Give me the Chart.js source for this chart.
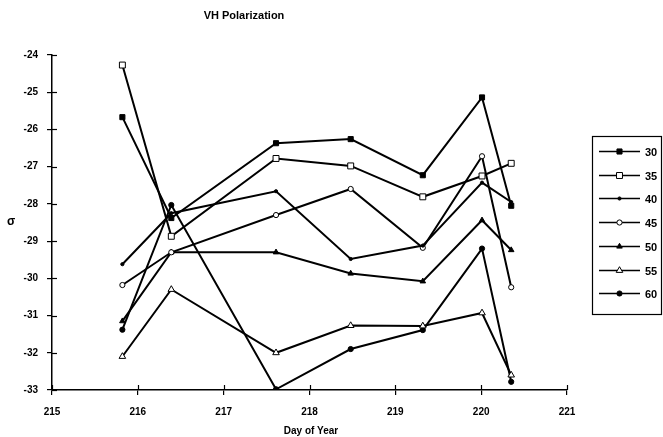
<!DOCTYPE html>
<html>
<head>
<meta charset="utf-8">
<script src="https://cdn.jsdelivr.net/npm/chart.js@4.4.1/dist/chart.umd.min.js"></script>
<style>
html,body{margin:0;padding:0;background:#fff;}
#wrap{position:relative;width:663px;height:437px;}
</style>
</head>
<body>
<div id="wrap"><canvas id="c" width="663" height="437"></canvas></div>
<script>
// ---- data ----
const days = [215.82, 216.39, 217.61, 218.48, 219.32, 220.01, 220.35];
const seriesNames = ["30", "35", "40", "45", "50", "55", "60"];
const s30 = [-25.67, -28.38, -26.37, -26.26, -27.23, -25.14, -28.05];
const s35 = [-24.27, -28.87, -26.78, -26.98, -27.81, -27.25, -26.91];
const s40 = [-29.62, -28.25, -27.66, -29.48, -29.12, -27.43, -27.95];
const s45 = [-30.18, -29.30, -28.30, -27.60, -29.18, -26.72, -30.24];
const s50 = [-31.15, -29.30, -29.30, -29.87, -30.08, -28.44, -29.24];
const s55 = [-32.10, -30.30, -32.00, -31.27, -31.28, -30.93, -32.60];
const s60 = [-31.38, -28.03, -32.98, -31.90, -31.39, -29.20, -32.78];
const xTicks = [215, 216, 217, 218, 219, 220, 221];
const yTicks = [-24, -25, -26, -27, -28, -29, -30, -31, -32, -33];

const allSeries = [s30, s35, s40, s45, s50, s55, s60];
const markers = [
  {style: 'rect', r: 3.6, fill: '#000'},
  {style: 'rect', r: 4.2, fill: '#fff'},
  {style: 'circle', r: 1.6, fill: '#000'},
  {style: 'circle', r: 2.6, fill: '#fff'},
  {style: 'triangle', r: 3.2, fill: '#000'},
  {style: 'triangle', r: 3.8, fill: '#fff'},
  {style: 'circle', r: 2.6, fill: '#000'}
];

const FONT = "'Liberation Sans Narrow', 'Liberation Sans', Arial, sans-serif";

const datasets = allSeries.map((vals, i) => ({
  label: seriesNames[i],
  data: vals.map((v, j) => ({x: days[j], y: v})),
  showLine: true,
  borderColor: '#000',
  borderWidth: 2,
  pointStyle: markers[i].style,
  pointRadius: markers[i].r,
  pointBackgroundColor: markers[i].fill,
  pointBorderColor: '#000',
  pointBorderWidth: 1,
  tension: 0
}));

function drawMarker(ctx, m, x, y) {
  ctx.save();
  ctx.fillStyle = m.fill;
  ctx.strokeStyle = '#000';
  ctx.lineWidth = 1;
  ctx.beginPath();
  if (m.style === 'rect') {
    const s = m.r * Math.SQRT1_2;
    ctx.rect(x - s, y - s, 2 * s, 2 * s);
  } else if (m.style === 'circle') {
    ctx.arc(x, y, m.r, 0, Math.PI * 2);
  } else if (m.style === 'triangle') {
    const r = m.r;
    ctx.moveTo(x, y - r);
    ctx.lineTo(x + r * 0.866, y + r * 0.5);
    ctx.lineTo(x - r * 0.866, y + r * 0.5);
    ctx.closePath();
  }
  ctx.fill();
  ctx.stroke();
  ctx.restore();
}

const decor = {
  id: 'decor',
  afterDraw(chart) {
    const ctx = chart.ctx;
    const xs = chart.scales.x, ys = chart.scales.y;
    ctx.save();
    ctx.strokeStyle = '#000';
    ctx.lineWidth = 1.2;
    // inward tick marks (cross ticks)
    xTicks.forEach(t => {
      const px = Math.round(xs.getPixelForValue(t)) + 0.5;
      ctx.beginPath();
      ctx.moveTo(px, ys.bottom);
      ctx.lineTo(px, ys.bottom - 5);
      ctx.stroke();
    });
    yTicks.forEach(t => {
      const py = Math.round(ys.getPixelForValue(t)) + 0.5;
      ctx.beginPath();
      ctx.moveTo(xs.left, py);
      ctx.lineTo(xs.left + 5, py);
      ctx.stroke();
    });
    // title
    ctx.fillStyle = '#000';
    ctx.font = "bold 11px " + FONT;
    ctx.textAlign = 'center';
    ctx.textBaseline = 'middle';
    ctx.fillText('VH Polarization', 244, 16);
    // y axis title
    ctx.font = "bold 12px " + FONT;
    ctx.fillText('σ', 11, 222);
    // x axis title
    ctx.font = "bold 10px " + FONT;
    ctx.fillText('Day of Year', 311, 431);
    // legend box
    ctx.lineWidth = 1.2;
    ctx.strokeRect(592.5, 136.5, 69, 178);
    const y0 = 151, dy = 23.7;
    ctx.textAlign = 'left';
    ctx.font = "bold 11px " + FONT;
    seriesNames.forEach((n, i) => {
      const y = Math.round(y0 + i * dy) + 0.5;
      ctx.lineWidth = 1.5;
      ctx.beginPath();
      ctx.moveTo(599, y);
      ctx.lineTo(640, y);
      ctx.stroke();
      drawMarker(ctx, markers[i], 619.5, y);
      ctx.fillStyle = '#000';
      ctx.fillText(n, 645, y + 1);
    });
    ctx.restore();
  }
};

new Chart(document.getElementById('c'), {
  type: 'scatter',
  data: {datasets},
  options: {
    responsive: false,
    animation: false,
    devicePixelRatio: 1,
    layout: {padding: {top: 55, right: 96, bottom: 0, left: 0}},
    plugins: {legend: {display: false}, title: {display: false}, tooltip: {enabled: false}},
    scales: {
      x: {
        type: 'linear', min: 215, max: 221,
        afterFit(s) { s.height = 47; },
        afterBuildTicks(s) { s.ticks = xTicks.map(v => ({value: v})); },
        grid: {drawOnChartArea: false, tickLength: 5, color: '#000', lineWidth: 1.2},
        border: {color: '#000', width: 1.5},
        ticks: {color: '#000', padding: 11, font: {family: FONT, weight: 'bold', size: 10}, maxRotation: 0}
      },
      y: {
        type: 'linear', min: -33, max: -24,
        afterFit(s) { s.width = 52; },
        afterBuildTicks(s) { s.ticks = yTicks.map(v => ({value: v})); },
        grid: {drawOnChartArea: false, tickLength: 5, color: '#000', lineWidth: 1.2},
        border: {color: '#000', width: 1.5},
        ticks: {color: '#000', padding: 9, font: {family: FONT, weight: 'bold', size: 10}}
      }
    }
  },
  plugins: [decor]
});
</script>
</body>
</html>
